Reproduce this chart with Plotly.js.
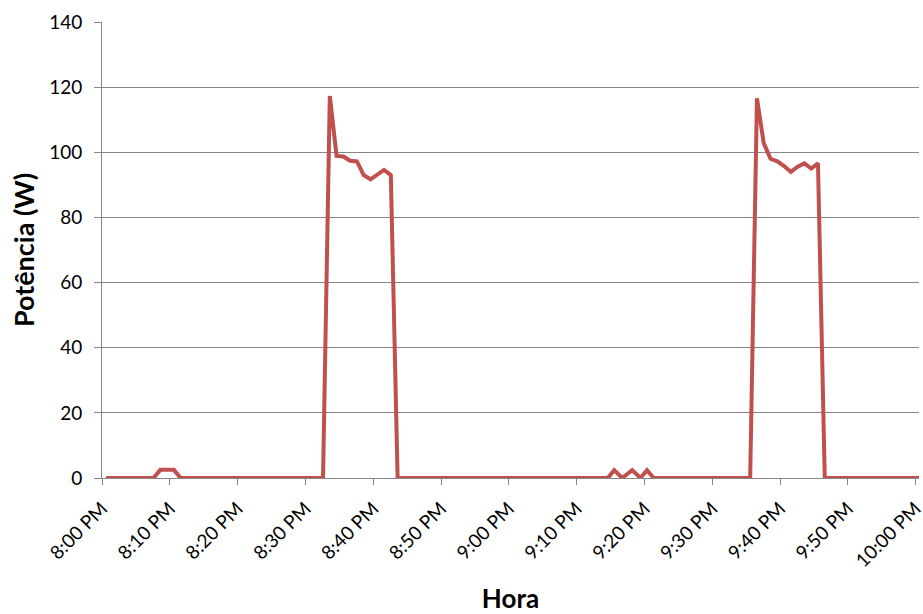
<!DOCTYPE html>
<html>
<head>
<meta charset="utf-8">
<script src="https://cdn.plot.ly/plotly-3.0.1.min.js"></script>
<style>html,body{margin:0;padding:0;background:#fff}#chart{width:923px;height:614px}</style>
</head>
<body>
<div id="chart"></div>
<script>
// Sample times (HH:MM:SS), evening of one day
var times = [
"20:00:36","20:01:36","20:02:36","20:03:36","20:04:36","20:05:36","20:06:36","20:07:36","20:08:36","20:09:36",
"20:10:36","20:11:36","20:12:36","20:13:36","20:14:36","20:15:36","20:16:36","20:17:36","20:18:36","20:19:36",
"20:20:36","20:21:36","20:22:36","20:23:36","20:24:36","20:25:36","20:26:36","20:27:36","20:28:36","20:29:36",
"20:30:36","20:31:36","20:32:36","20:33:36","20:34:36","20:35:36","20:36:36","20:37:36","20:38:36","20:39:36",
"20:40:36","20:41:36","20:42:36","20:43:36","20:44:36","20:45:36","20:46:36","20:47:36","20:48:36","20:49:36",
"20:50:36","20:51:36","20:52:36","20:53:36","20:54:36","20:55:36","20:56:36","20:57:36","20:58:36","20:59:36",
"21:00:36","21:01:36","21:02:36","21:03:36","21:04:36","21:05:36","21:06:36","21:07:36","21:08:36","21:09:36",
"21:10:36","21:11:36","21:12:36","21:13:36","21:14:36",
"21:15:33","21:16:44","21:18:12","21:19:25","21:20:23","21:21:22",
"21:22:36","21:23:36","21:24:36","21:25:36","21:26:36","21:27:36","21:28:36","21:29:36",
"21:30:36","21:31:36","21:32:36","21:33:36","21:34:36","21:35:36","21:36:36","21:37:36","21:38:36","21:39:36",
"21:40:36","21:41:36","21:42:36","21:43:36","21:44:36","21:45:36","21:46:36","21:47:36","21:48:36","21:49:36",
"21:50:36","21:51:36","21:52:36","21:53:36","21:54:36","21:55:36","21:56:36","21:57:36","21:58:36","21:59:36",
"22:00:36"
];
// Power (W)
var power = [
0,0,0,0,0,0,0,0,2.5,2.5,
2.5,0,0,0,0,0,0,0,0,0,
0,0,0,0,0,0,0,0,0,0,
0,0,0,117.3,98.9,98.7,97.4,97.2,93.0,91.7,
93.0,94.6,93.0,0,0,0,0,0,0,0,
0,0,0,0,0,0,0,0,0,0,
0,0,0,0,0,0,0,0,0,0,
0,0,0,0,0,
2.4,0,2.4,0,2.4,0,
0,0,0,0,0,0,0,0,
0,0,0,0,0,0,116.6,102.8,98.0,97.2,
95.8,94.0,95.6,96.6,95.0,96.6,0,0,0,0,
0,0,0,0,0,0,0,0,0,0,
0
];
// X tick positions and labels
var tickTimes = ["20:00:00","20:10:00","20:20:00","20:30:00","20:40:00","20:50:00","21:00:00",
                 "21:10:00","21:20:00","21:30:00","21:40:00","21:50:00","22:00:00"];
var tickLabels = ["8:00 PM","8:10 PM","8:20 PM","8:30 PM","8:40 PM","8:50 PM","9:00 PM",
                  "9:10 PM","9:20 PM","9:30 PM","9:40 PM","9:50 PM","10:00 PM"];
var day = "2024-01-01 ";
var xTitle = "Hora";
var yTitle = "Potência (W)";

var x = times.map(function(t){ return day + t; });
var tv = tickTimes.map(function(t){ return day + t; });

var trace = {
  x: x, y: power, type: "scatter", mode: "lines",
  line: {color: "#C0504D", width: 4},
  hoverinfo: "x+y"
};

var font = "Lato, 'Open Sans', 'DejaVu Sans', sans-serif";
var layout = {
  width: 923, height: 614,
  margin: {l: 102, r: 4, t: 22, b: 136, pad: 0},
  paper_bgcolor: "#ffffff", plot_bgcolor: "#ffffff",
  showlegend: false,
  font: {family: font, color: "#000000"},
  xaxis: {
    type: "date",
    range: [day + "20:00:00", day + "22:00:30"],
    tickmode: "array", tickvals: tv, ticktext: tickLabels,
    tickangle: -45,
    tickfont: {size: 19, family: font, color: "#000"},
    ticks: "outside", ticklen: 6, tickcolor: "#868686",
    ticklabelstandoff: 5,
    ticklabeloverflow: "allow",
    showgrid: false, zeroline: false,
    showline: true, linecolor: "#868686", linewidth: 1,
    automargin: false,
    title: {text: xTitle, font: {size: 26, family: font, weight: "bold", color: "#000"}, standoff: 28}
  },
  yaxis: {
    range: [0, 140], dtick: 20,
    tickfont: {size: 19, family: font, color: "#000"},
    ticks: "outside", ticklen: 7, tickcolor: "#868686",
    ticklabelstandoff: 8,
    showgrid: true, gridcolor: "#868686", gridwidth: 1,
    zeroline: false,
    showline: true, linecolor: "#868686", linewidth: 1,
    automargin: false,
    title: {text: yTitle, font: {size: 27, family: font, weight: "bold", color: "#000"}, standoff: 6}
  }
};

Plotly.newPlot("chart", [trace], layout, {displayModeBar: false, staticPlot: true});
</script>
</body>
</html>
